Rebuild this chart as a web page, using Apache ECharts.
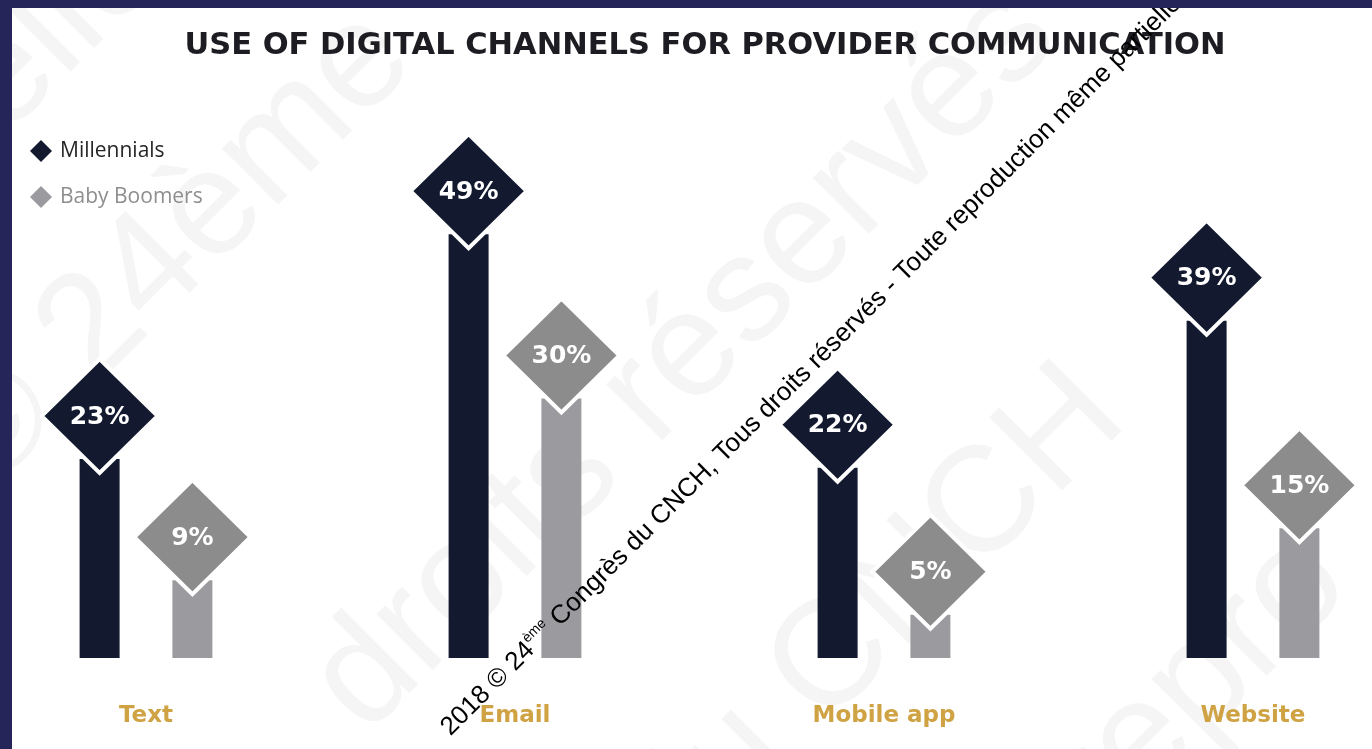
<!DOCTYPE html>
<html>
<head>
<meta charset="utf-8">
<script src="https://cdn.jsdelivr.net/npm/echarts@6/dist/echarts.min.js"></script>
<style>
  html, body { margin: 0; padding: 0; background: #ffffff; overflow: hidden; }
  #chart { width: 1372px; height: 749px; }
</style>
</head>
<body>
<div id="chart"></div>
<script>
// Share of respondents using each digital channel to communicate with providers
const categories = ['Text', 'Email', 'Mobile app', 'Website'];
const millennials = [23, 49, 22, 39];
const babyBoomers = [9, 30, 5, 15];
const seriesNames = ['Millennials', 'Baby Boomers'];

const NAVY = '#131a30';
const GREY_BAR = '#9b9b9f';
const GREY_DIAMOND = '#8c8c8c';
const GOLD = '#cfa344';
const FRAME = '#25255a';

const BAR_W = 40;
const BAR_GAP_RATIO = 1.32;                 // gap between the two bars, as a share of bar width
const HALF_PITCH = BAR_W * (1 + BAR_GAP_RATIO) / 2;  // bar centre offset from category centre
const DIAMOND_HALF = [58, 57];
const DIAMOND_RISE = 43;                    // diamond centre sits this far above the bar end

const chart = echarts.init(document.getElementById('chart'), null, { renderer: 'canvas' });

function barSeries(name, data, color) {
  return {
    name: name,
    type: 'bar',
    data: data,
    barWidth: BAR_W,
    barGap: (BAR_GAP_RATIO * 100) + '%',
    z: 2,
    itemStyle: { color: color },
    emphasis: { disabled: true }
  };
}

// diamond badge with the value printed inside, sitting on the end of each bar
function diamondSeries(name, data, color, side) {
  return {
    name: name,
    type: 'custom',
    z: 3,
    silent: true,
    data: data.map(function (v, i) { return [i, v]; }),
    encode: { x: 0, y: 1 },
    renderItem: function (params, api) {
      const end = api.coord([api.value(0), api.value(1)]);
      const cx = end[0] + side * HALF_PITCH;
      const cy = end[1] - DIAMOND_RISE;
      const hw = DIAMOND_HALF[0], hh = DIAMOND_HALF[1];
      return {
        type: 'group',
        children: [
          {
            type: 'polygon',
            shape: { points: [[cx, cy - hh], [cx + hw, cy], [cx, cy + hh], [cx - hw, cy]] },
            style: { fill: color, stroke: '#ffffff', lineWidth: 4 }
          },
          {
            type: 'text',
            style: {
              text: api.value(1) + '%',
              x: cx, y: cy + 1,
              align: 'center',
              verticalAlign: 'middle',
              fill: '#ffffff',
              font: 'bold 25px "DejaVu Sans"'
            }
          }
        ]
      };
    }
  };
}

// faint background lettering and the diagonal copyright line
const faintFont = '150px "Liberation Sans"';
const faint = [
  { text: 'rtielle', x: -60, y: 250 },
  { text: '© 24ème', x: 10, y: 520 },
  { text: 'droits réservés', x: 390, y: 760 },
  { text: 'du CNCH', x: 700, y: 900 },
  { text: 'repro', x: 1130, y: 860 }
].map(function (t) {
  return {
    type: 'text', x: t.x, y: t.y, rotation: Math.PI / 4, z: 0, silent: true,
    style: { text: t.text, font: faintFont, fill: '#f5f5f5', verticalAlign: 'bottom' }
  };
});

const option = {
  backgroundColor: '#ffffff',
  animation: false,
  title: {
    text: 'USE OF DIGITAL CHANNELS FOR PROVIDER COMMUNICATION',
    left: 700,
    textAlign: 'center',
    top: 26,
    textStyle: {
      fontFamily: 'DejaVu Sans',
      fontWeight: 'bold',
      fontSize: 30.5,
      color: '#1c1c22'
    }
  },
  legend: {
    orient: 'vertical',
    left: 25,
    top: 135,
    icon: 'diamond',
    itemWidth: 22,
    itemHeight: 22,
    itemGap: 24,
    selectedMode: false,
    textStyle: { fontFamily: 'Open Sans', fontSize: 21, padding: [0, 0, 0, 3] },
    data: [
      { name: seriesNames[0], textStyle: { color: '#262626' } },
      { name: seriesNames[1], textStyle: { color: '#8e8e8e' } }
    ]
  },
  grid: {
    left: -38.5, right: -65.5, top: 139, bottom: 91,
    outerBoundsMode: 'none',
    containLabel: false
  },
  xAxis: {
    type: 'category',
    data: categories,
    axisLine: { show: false },
    axisTick: { show: false },
    axisLabel: {
      margin: 47,
      color: GOLD,
      fontFamily: 'DejaVu Sans',
      fontWeight: 'bold',
      fontSize: 23
    }
  },
  yAxis: {
    type: 'value',
    min: 0,
    max: 60,
    show: false,
    splitLine: { show: false }
  },
  series: [
    barSeries(seriesNames[0], millennials, NAVY),
    barSeries(seriesNames[1], babyBoomers, GREY_BAR),
    diamondSeries(seriesNames[0], millennials, NAVY, -1),
    diamondSeries(seriesNames[1], babyBoomers, GREY_DIAMOND, 1)
  ],
  graphic: faint.concat([
    {
      type: 'text', x: 456, y: 742, rotation: Math.PI / 4, z: 100, silent: true,
      style: {
        text: '2018 © 24{sup|ème} Congrès du CNCH, Tous droits réservés - Toute reproduction même partielle interdite',
        font: '26px "Liberation Sans"',
        fill: '#000000',
        verticalAlign: 'bottom',
        rich: {
          sup: { font: '14px "Liberation Sans"', fill: '#000000', verticalAlign: 'top', lineHeight: 30, padding: [0, 0, 12, 0] }
        }
      }
    },
    { type: 'rect', z: 200, silent: true, shape: { x: 0, y: 0, width: 1372, height: 8 }, style: { fill: FRAME } },
    { type: 'rect', z: 200, silent: true, shape: { x: 0, y: 0, width: 12, height: 749 }, style: { fill: FRAME } }
  ])
};

chart.setOption(option);
</script>
</body>
</html>
